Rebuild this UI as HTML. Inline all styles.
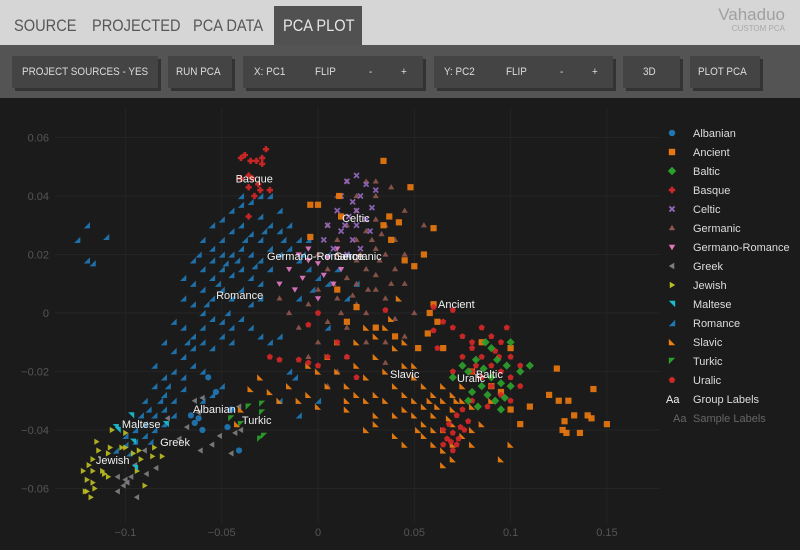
<!DOCTYPE html>
<html><head><meta charset="utf-8">
<style>
body{margin:0;width:800px;height:550px;overflow:hidden;background:#1b1b1b;font-family:"Liberation Sans",sans-serif;}
#hdr{position:absolute;left:0;top:0;width:800px;height:45px;background:#d6d6d6;}
.tab{position:absolute;top:6px;height:39px;line-height:40px;font-size:17px;color:#575757;white-space:nowrap}
.tab span{display:inline-block;transform:scaleX(0.86);transform-origin:left center}
.tab.active{background:#515151;color:#e6e6e6;width:88px}
.tab.active span{margin-left:9px}
#logo{position:absolute;right:15px;top:6px;text-align:right;color:#a0a0a0;font-size:17px;line-height:18px}
#logo small{display:block;font-size:8px;line-height:10px;color:#aaa}
#bar{position:absolute;left:0;top:45px;width:800px;height:53px;background:#545454;}
.btn{position:absolute;top:11px;height:32px;background:#444;box-shadow:3px 3px 0 #333;color:#dcdcdc;font-size:11px;line-height:32px;white-space:nowrap}
.btn span{position:absolute;top:0;display:inline-block;transform:scaleX(0.9);transform-origin:left center}
#plot{position:absolute;left:0;top:98px;}
</style></head><body>
<div id="hdr">
 <div class="tab" style="left:14px"><span>SOURCE</span></div>
 <div class="tab" style="left:92px"><span>PROJECTED</span></div>
 <div class="tab" style="left:193px"><span>PCA DATA</span></div>
 <div class="tab active" style="left:274px"><span>PCA PLOT</span></div>
 <div id="logo">Vahaduo<small>CUSTOM PCA</small></div>
</div>
<div id="bar">
 <div class="btn" style="left:12px;width:146px"><span style="left:10px">PROJECT SOURCES - YES</span></div>
 <div class="btn" style="left:168px;width:64px"><span style="left:8px">RUN PCA</span></div>
 <div class="btn" style="left:243px;width:180px">
  <span style="left:11px">X: PC1</span>
  <span style="left:72px">FLIP</span>
  <span style="left:126px">-</span>
  <span style="left:158px">+</span></div>
 <div class="btn" style="left:434px;width:179px">
  <span style="left:10px">Y: PC2</span>
  <span style="left:72px">FLIP</span>
  <span style="left:126px">-</span>
  <span style="left:158px">+</span></div>
 <div class="btn" style="left:623px;width:57px"><span style="left:20px">3D</span></div>
 <div class="btn" style="left:690px;width:70px"><span style="left:8px">PLOT PCA</span></div>
</div>
<svg id="plot" width="800" height="452"></svg>
<script>
const xTicks=[-0.1,-0.05,0,0.05,0.1,0.15];
const xTickLabels=["−0.1","−0.05","0","0.05","0.1","0.15"];
const yTicks=[0.06,0.04,0.02,0,-0.02,-0.04,-0.06];
const yTickLabels=["0.06","0.04","0.02","0","−0.02","−0.04","−0.06"];
const groups=["Albanian","Ancient","Baltic","Basque","Celtic","Germanic","Germano-Romance","Greek","Jewish","Maltese","Romance","Slavic","Turkic","Uralic"];
const colors=["#1f77b4","#e8770f","#2ca02c","#d62728","#9467bd","#8c564b","#e377c2","#7f7f7f","#bcbd22","#17becf","#1f77b4","#f07f10","#2ca02c","#d62728"];
const shapes=["circle","square","diamond","cross","x","tri-up","tri-down","tri-left","tri-right","tri-ne","tri-se","tri-sw","tri-nw","pentagon"];
const albanian=[[-0.057,-0.022],[-0.053,-0.027],[-0.066,-0.035],[-0.064,-0.0376],[-0.06,-0.04],[-0.047,-0.039],[-0.041,-0.047],[-0.062,-0.036],[-0.045,-0.033]];
const ancient=[[0.034,0.052],[0.048,0.043],[-0.004,0.037],[0.011,0.04],[0.012,0.033],[0.034,0.03],[0.037,0.033],[0.042,0.031],[0.06,0.029],[0.038,0.025],[0.045,0.018],[0.05,0.016],[0.055,0.02],[0.01,0.008],[0.02,0.002],[0.015,-0.003],[0.03,-0.005],[0.04,-0.008],[0.06,0.003],[0.062,-0.003],[0.057,-0.007],[0.052,-0.012],[0.065,-0.012],[0.08,-0.02],[0.09,-0.025],[0.095,-0.027],[0.1,-0.033],[0.105,-0.038],[0.11,-0.032],[0.12,-0.028],[0.124,-0.019],[0.125,-0.03],[0.13,-0.03],[0.133,-0.035],[0.127,-0.04],[0.14,-0.035],[0.136,-0.041],[0.129,-0.041],[0.15,-0.038],[0.142,-0.036],[0.143,-0.026],[0.128,-0.037],[0.0,0.037],[-0.004,0.026],[0.058,0.0],[0.085,-0.01],[0.1,-0.012]];
const baltic=[[0.075,-0.018],[0.078,-0.02],[0.082,-0.016],[0.086,-0.019],[0.09,-0.022],[0.093,-0.016],[0.095,-0.024],[0.098,-0.018],[0.1,-0.025],[0.085,-0.025],[0.08,-0.027],[0.088,-0.028],[0.092,-0.03],[0.097,-0.029],[0.09,-0.012],[0.087,-0.01],[0.105,-0.02],[0.11,-0.018],[0.095,-0.033],[0.083,-0.032],[0.07,-0.022],[0.078,-0.03],[0.1,-0.01]];
const basque=[[-0.04,0.053],[-0.038,0.054],[-0.035,0.052],[-0.032,0.052],[-0.029,0.051],[-0.029,0.053],[-0.027,0.056],[-0.04,0.046],[-0.036,0.047],[-0.034,0.046],[-0.036,0.043],[-0.031,0.044],[-0.03,0.042],[-0.025,0.042],[-0.033,0.04],[-0.036,0.033]];
const celtic=[[0.015,0.045],[0.02,0.047],[0.025,0.044],[0.012,0.04],[0.018,0.038],[0.022,0.04],[0.03,0.042],[0.01,0.035],[0.016,0.033],[0.02,0.03],[0.025,0.032],[0.028,0.036],[0.005,0.03],[0.012,0.028],[0.018,0.025],[0.022,0.022],[0.008,0.022],[0.015,0.02],[0.027,0.028],[0.003,0.025],[0.02,0.035],[0.014,0.03]];
const germanic=[[0.01,0.04],[0.02,0.035],[0.03,0.032],[0.035,0.03],[0.005,0.03],[0.015,0.03],[0.025,0.028],[0.04,0.025],[0.01,0.025],[0.02,0.025],[0.03,0.022],[0.035,0.02],[0.045,0.02],[0.0,0.02],[0.01,0.02],[0.02,0.018],[0.025,0.015],[0.03,0.013],[0.04,0.015],[0.005,0.015],[0.015,0.012],[0.02,0.01],[0.03,0.008],[0.035,0.005],[0.045,0.01],[0.0,0.008],[0.01,0.005],[0.02,0.003],[0.025,0.0],[0.04,-0.002],[-0.005,0.003],[0.005,-0.003],[0.015,-0.005],[0.03,-0.005],[0.025,-0.01],[0.035,-0.01],[-0.01,-0.005],[0.0,-0.01],[0.015,-0.015],[0.02,0.04],[0.025,0.045],[0.015,0.045],[0.03,0.04],[0.045,0.035],[0.055,0.03],[0.05,0.0],[0.045,-0.008],[-0.015,0.0],[-0.005,-0.015],[0.01,-0.02],[0.005,-0.025],[-0.02,0.005],[0.035,-0.017],[0.03,0.045],[0.038,0.043],[0.028,0.025],[0.032,0.018],[0.022,0.02],[0.018,0.006],[0.026,0.008],[0.038,0.01],[0.012,0.0],[0.008,0.01],[0.033,0.027]];
const germanoRomance=[[-0.01,0.02],[-0.005,0.018],[0.0,0.017],[0.005,0.019],[-0.015,0.015],[-0.008,0.012],[0.003,0.013],[0.008,0.01],[-0.02,0.01],[-0.012,0.008],[0.0,0.005],[-0.005,0.022],[0.01,0.022],[0.012,0.015]];
const greek=[[-0.06,-0.029],[-0.064,-0.03],[-0.062,-0.034],[-0.068,-0.039],[-0.072,-0.043],[-0.061,-0.047],[-0.055,-0.045],[-0.051,-0.042],[-0.045,-0.048],[-0.041,-0.032],[-0.04,-0.04],[-0.084,-0.053],[-0.089,-0.055],[-0.104,-0.056],[-0.101,-0.059],[-0.104,-0.061],[-0.094,-0.063],[-0.097,-0.056],[-0.095,-0.052],[-0.09,-0.047],[-0.078,-0.036],[-0.1,-0.057],[-0.099,-0.058],[-0.043,-0.041]];
const jewish=[[-0.115,-0.044],[-0.114,-0.047],[-0.108,-0.046],[-0.109,-0.048],[-0.117,-0.05],[-0.119,-0.052],[-0.122,-0.054],[-0.117,-0.054],[-0.12,-0.057],[-0.117,-0.058],[-0.116,-0.06],[-0.121,-0.061],[-0.12,-0.061],[-0.118,-0.063],[-0.112,-0.054],[-0.111,-0.055],[-0.109,-0.056],[-0.102,-0.046],[-0.1,-0.046],[-0.096,-0.048],[-0.093,-0.047],[-0.092,-0.05],[-0.094,-0.054],[-0.086,-0.049],[-0.081,-0.049],[-0.085,-0.046],[-0.09,-0.059],[-0.107,-0.04],[-0.1,-0.041]];
const maltese=[[-0.097,-0.035],[-0.104,-0.04],[-0.105,-0.039],[-0.096,-0.044],[-0.079,-0.038],[-0.095,-0.053]];
const romance=[[-0.055,0.03],[-0.05,0.032],[-0.045,0.035],[-0.04,0.037],[-0.035,0.038],[-0.03,0.033],[-0.025,0.03],[-0.02,0.028],[-0.015,0.03],[-0.01,0.025],[-0.06,0.025],[-0.055,0.022],[-0.05,0.025],[-0.045,0.028],[-0.04,0.03],[-0.035,0.027],[-0.03,0.025],[-0.025,0.022],[-0.02,0.02],[-0.015,0.022],[-0.065,0.018],[-0.06,0.015],[-0.055,0.018],[-0.05,0.02],[-0.045,0.02],[-0.04,0.022],[-0.035,0.02],[-0.03,0.018],[-0.025,0.015],[-0.01,0.018],[-0.07,0.012],[-0.065,0.01],[-0.06,0.008],[-0.055,0.012],[-0.05,0.015],[-0.045,0.013],[-0.04,0.015],[-0.035,0.012],[-0.03,0.01],[-0.005,0.015],[-0.07,0.005],[-0.065,0.003],[-0.06,0.0],[-0.055,0.005],[-0.05,0.008],[-0.045,0.005],[-0.04,0.008],[-0.035,0.003],[-0.03,0.005],[0.0,0.012],[-0.075,-0.003],[-0.07,-0.005],[-0.065,-0.008],[-0.06,-0.005],[-0.055,-0.002],[-0.05,-0.003],[-0.045,-0.005],[-0.04,-0.002],[-0.035,-0.005],[-0.03,-0.008],[-0.08,-0.01],[-0.075,-0.013],[-0.07,-0.015],[-0.065,-0.012],[-0.06,-0.01],[-0.055,-0.012],[-0.05,-0.008],[-0.045,-0.01],[-0.025,-0.01],[-0.02,-0.008],[-0.085,-0.018],[-0.08,-0.022],[-0.075,-0.02],[-0.07,-0.022],[-0.065,-0.018],[-0.06,-0.02],[-0.085,-0.025],[-0.08,-0.028],[-0.075,-0.03],[-0.07,-0.026],[-0.09,-0.03],[-0.088,-0.033],[-0.085,-0.035],[-0.08,-0.033],[-0.075,-0.035],[-0.09,-0.038],[-0.095,-0.04],[-0.1,-0.042],[-0.095,-0.044],[-0.09,-0.042],[-0.085,-0.04],[-0.08,-0.038],[-0.105,-0.047],[-0.1,-0.045],[-0.06,-0.03],[-0.055,-0.028],[-0.05,-0.025],[-0.01,0.005],[0.005,0.01],[0.01,0.015],[0.015,0.02],[0.005,0.02],[-0.005,0.025],[-0.02,0.035],[-0.03,0.04],[-0.04,0.04],[-0.025,0.04],[-0.12,0.03],[-0.125,0.025],[-0.11,0.026],[-0.12,0.018],[-0.117,0.017],[-0.015,-0.02],[-0.012,-0.022],[-0.02,-0.03],[-0.01,-0.035],[0.0,-0.03],[0.005,-0.005],[0.02,0.01],[0.015,0.005],[-0.048,0.017],[-0.042,0.018],[-0.052,0.01],[-0.038,0.025],[-0.033,0.016],[-0.058,0.003],[-0.047,0.0],[-0.068,-0.01],[-0.078,-0.025],[-0.082,-0.03],[-0.092,-0.035],[-0.087,-0.044],[-0.098,-0.048],[-0.062,0.02],[-0.028,0.028],[-0.018,0.025],[-0.008,0.02],[-0.003,0.008]];
const slavic=[[-0.015,-0.025],[-0.01,-0.03],[-0.005,-0.028],[0.0,-0.032],[0.005,-0.025],[-0.02,-0.03],[-0.025,-0.027],[0.01,-0.02],[0.015,-0.025],[0.02,-0.018],[0.025,-0.022],[0.03,-0.015],[0.035,-0.02],[0.04,-0.012],[0.045,-0.018],[0.03,-0.008],[0.035,-0.005],[0.025,-0.005],[0.02,-0.01],[0.04,-0.025],[0.045,-0.028],[0.05,-0.022],[0.055,-0.025],[0.05,-0.03],[0.055,-0.032],[0.06,-0.028],[0.065,-0.025],[0.06,-0.035],[0.065,-0.03],[0.07,-0.028],[0.075,-0.025],[0.07,-0.033],[0.075,-0.03],[0.08,-0.032],[0.07,-0.038],[0.065,-0.04],[0.06,-0.04],[0.055,-0.038],[0.05,-0.035],[0.045,-0.033],[0.04,-0.035],[0.035,-0.03],[0.03,-0.028],[0.025,-0.03],[0.02,-0.028],[0.015,-0.033],[0.055,-0.042],[0.06,-0.045],[0.065,-0.047],[0.07,-0.045],[0.075,-0.042],[0.08,-0.04],[0.085,-0.038],[0.09,-0.03],[0.1,-0.045],[0.095,-0.05],[0.07,-0.05],[0.065,-0.052],[0.045,-0.045],[0.04,-0.042],[0.03,-0.035],[0.025,-0.04],[0.01,-0.01],[0.005,-0.015],[0.0,-0.02],[-0.005,-0.018],[0.015,-0.03],[0.05,-0.018],[0.045,-0.01],[-0.03,-0.022],[-0.035,-0.026],[-0.04,-0.033],[-0.042,-0.038],[0.038,-0.002],[0.042,0.005],[0.03,-0.038],[0.08,-0.045],[0.062,-0.032],[0.068,-0.036],[0.058,-0.03],[0.052,-0.04],[0.072,-0.03]];
const turkic=[[-0.036,-0.032],[-0.029,-0.031],[-0.029,-0.034],[-0.028,-0.042],[-0.03,-0.043],[-0.045,-0.036],[-0.04,-0.038]];
const uralic=[[0.06,0.002],[0.065,-0.003],[0.07,-0.005],[0.075,-0.008],[0.062,-0.012],[0.085,-0.005],[0.09,-0.008],[0.095,-0.01],[0.08,-0.012],[0.085,-0.015],[0.09,-0.018],[0.095,-0.02],[0.1,-0.015],[0.1,-0.022],[0.105,-0.025],[0.08,-0.02],[0.085,-0.022],[0.09,-0.025],[0.095,-0.028],[0.1,-0.03],[0.105,-0.018],[0.075,-0.015],[0.07,-0.02],[0.072,-0.035],[0.068,-0.038],[0.07,-0.041],[0.073,-0.043],[0.076,-0.04],[0.078,-0.037],[0.065,-0.04],[0.067,-0.043],[0.072,-0.045],[0.075,-0.033],[0.08,-0.03],[0.088,-0.032],[0.065,-0.045],[0.07,-0.047],[0.08,-0.01],[0.092,-0.013],[0.098,-0.005],[0.07,0.001],[0.0,-0.018],[0.005,-0.015],[-0.005,-0.017],[0.01,-0.01],[-0.01,-0.016],[-0.02,-0.016],[-0.025,-0.015],[0.015,-0.015],[0.02,-0.022],[0.035,0.001],[0.06,-0.006],[-0.005,-0.004],[0.0,0.0],[0.074,-0.039],[0.069,-0.044],[0.082,-0.018],[0.094,-0.015]];
const points=[albanian,ancient,baltic,basque,celtic,germanic,germanoRomance,greek,jewish,maltese,romance,slavic,turkic,uralic];
const labelNames=["Basque","Celtic","Germano-Romance","Germanic","Romance","Ancient","Slavic","Uralic","Baltic","Albanian","Turkic","Maltese","Greek","Jewish"];
const labelX=[-0.0428,0.0125,-0.0265,0.0083,-0.0529,0.0623,0.0374,0.0722,0.0820,-0.0649,-0.0395,-0.1018,-0.0820,-0.1153];
const labelY=[0.0446,0.0311,0.0181,0.0181,0.0048,0.0017,-0.0222,-0.0236,-0.0222,-0.0342,-0.0379,-0.0393,-0.0455,-0.0516];

const svg=document.getElementById('plot');
const NS='http://www.w3.org/2000/svg';
const OY=98;
function sx(v){return 318+v*1926;}
function sy(v){return 313-OY-v*2925;}
function mk(tag,attrs){const e=document.createElementNS(NS,tag);for(const k in attrs)e.setAttribute(k,attrs[k]);svg.appendChild(e);return e;}
xTicks.forEach((t,i)=>{
 const l=mk('line',{x1:sx(t),x2:sx(t),y1:10,y2:425,stroke:'#242424','stroke-width':1});
 
 
 const tx=mk('text',{x:sx(t),y:438,fill:'#555','font-size':11,'text-anchor':'middle','font-family':'Liberation Sans, sans-serif'});
 tx.textContent=xTickLabels[i];
 
 
});
yTicks.forEach((t,i)=>{
 const l=mk('line',{x1:55,x2:660,y1:sy(t),y2:sy(t),stroke:'#242424','stroke-width':1});
 
 
 const tx=mk('text',{x:49,y:sy(t)+4,fill:'#555','font-size':11,'text-anchor':'end','font-family':'Liberation Sans, sans-serif'});
 tx.textContent=yTickLabels[i];
 
 
});
function shapePath(s,x,y,r){
 switch(s){
  case 'square':return `M${x-r},${y-r}h${2*r}v${2*r}h${-2*r}z`;
  case 'diamond':return `M${x},${y-r-1}L${x+r+1},${y}L${x},${y+r+1}L${x-r-1},${y}z`;
  case 'cross':{const a=r*0.4;return `M${x-a},${y-r}h${2*a}v${r-a}h${r-a}v${2*a}h${a-r}v${r-a}h${-2*a}v${a-r}h${a-r}v${-2*a}h${r-a}z`;}
  case 'x':{const a=r*0.4;return `M${x-r},${y-r+a}L${x-r+a},${y-r}L${x},${y-a}L${x+r-a},${y-r}L${x+r},${y-r+a}L${x+a},${y}L${x+r},${y+r-a}L${x+r-a},${y+r}L${x},${y+a}L${x-r+a},${y+r}L${x-r},${y+r-a}L${x-a},${y}z`;}
  case 'tri-up':return `M${x},${y-r}L${x+r},${y+r*0.7}L${x-r},${y+r*0.7}z`;
  case 'tri-down':return `M${x},${y+r}L${x+r},${y-r*0.7}L${x-r},${y-r*0.7}z`;
  case 'tri-left':return `M${x-r},${y}L${x+r*0.7},${y-r}L${x+r*0.7},${y+r}z`;
  case 'tri-right':return `M${x+r},${y}L${x-r*0.7},${y-r}L${x-r*0.7},${y+r}z`;
  case 'tri-ne':return `M${x-r},${y-r}L${x+r},${y-r}L${x+r},${y+r}z`;
  case 'tri-se':return `M${x+r},${y-r}L${x+r},${y+r}L${x-r},${y+r}z`;
  case 'tri-sw':return `M${x-r},${y-r}L${x+r},${y+r}L${x-r},${y+r}z`;
  case 'tri-nw':return `M${x-r},${y-r}L${x+r},${y-r}L${x-r},${y+r}z`;
  case 'pentagon':{let d='';for(let k=0;k<5;k++){const a=-Math.PI/2+k*2*Math.PI/5;d+=(k?'L':'M')+(x+r*1.05*Math.cos(a))+','+(y+r*1.05*Math.sin(a));}return d+'z';}
 }
}
function marker(g,x,y,r){
 const s=shapes[g];
 if(s==='circle'){return mk('circle',{cx:x,cy:y,r:r,fill:colors[g]});}
 return mk('path',{d:shapePath(s,x,y,r),fill:colors[g]});
}
const order=[10,5,6,4,3,7,8,9,0,12,11,1,13,2];
order.forEach(g=>{
 points[g].forEach(p=>{
  const m=marker(g,sx(p[0]),sy(p[1]),3.1);
  m.setAttribute('opacity','0.92');
  
  
 });
});
labelNames.forEach((n,i)=>{
 const t=mk('text',{x:sx(labelX[i]),y:sy(labelY[i]),fill:'#f0f0f0','font-size':11,'font-family':'Liberation Sans, sans-serif'});
 t.textContent=n;
 
 
});
groups.forEach((n,i)=>{
 const y=35+i*19;
 const m=marker(i,672,y,3.2);
 
 
 const t=mk('text',{x:693,y:y+4,fill:'#dcdcdc','font-size':11,'font-family':'Liberation Sans, sans-serif'});
 t.textContent=n;
 
 
});
[["Aa","Group Labels","#f0f0f0","#dcdcdc"],["Aa","Sample Labels","#666","#666"]].forEach((r,i)=>{
 const y=35+(14+i)*19+4;
 const a=mk('text',{x:i?673:666,y:y,fill:r[2],'font-size':11,'font-family':'Liberation Sans, sans-serif'});
 a.textContent=r[0];
 
 
 const t=mk('text',{x:693,y:y,fill:r[3],'font-size':11,'font-family':'Liberation Sans, sans-serif'});
 t.textContent=r[1];
 
 
});
</script>
</body></html>
